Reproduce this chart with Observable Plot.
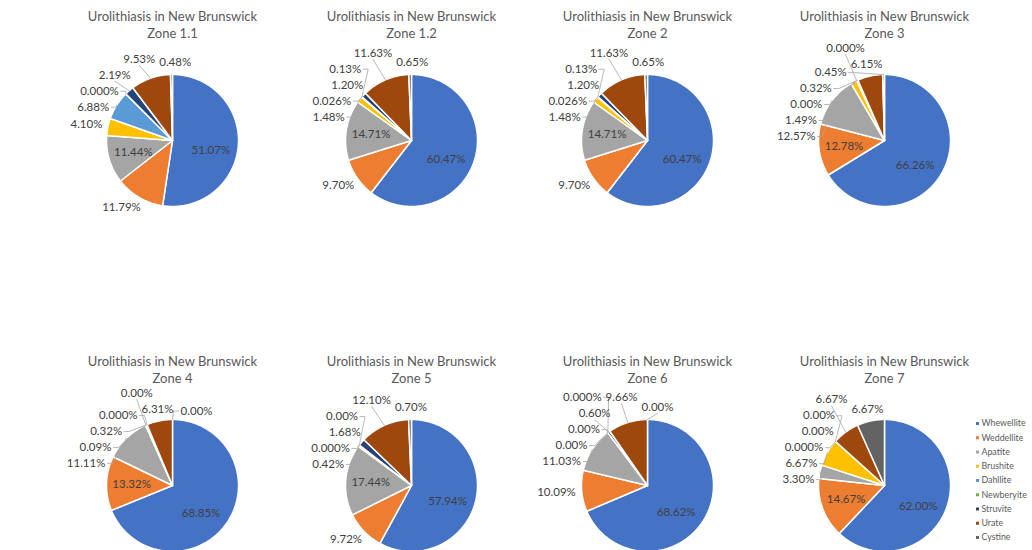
<!DOCTYPE html>
<html><head><meta charset="utf-8">
<script src="https://cdn.jsdelivr.net/npm/d3@7"></script>
<script src="https://cdn.jsdelivr.net/npm/@observablehq/plot@0.6"></script>
<style>
html,body{margin:0;padding:0;background:#fff;overflow:hidden}
#chart{width:1032px;height:550px}
</style></head><body><div id="chart"></div>
<script>
// ---------- data ----------
const categories = ["Whewellite","Weddellite","Apatite","Brushite","Dahllite","Newberyite","Struvite","Urate","Cystine"];
const colors = ["#4472C4","#ED7D31","#A5A5A5","#FFC000","#5B9BD5","#70AD47","#264478","#9E480E","#636363"];
const chartTitle = "Urolithiasis in New Brunswick";
const zoneNames = ["Zone 1.1","Zone 1.2","Zone 2","Zone 3","Zone 4","Zone 5","Zone 6","Zone 7"];

const zone1_1 = [51.07, 11.79, 11.44, 4.10, 6.88, 0, 2.19, 9.53, 0.48];
const zone1_1Labels = ["51.07%","11.79%","11.44%","4.10%","6.88%","0.000%","2.19%","9.53%","0.48%"];
const zone1_2 = [60.47, 9.70, 14.71, 1.48, 0.13, 0.026, 1.20, 11.63, 0.65];
const zone1_2Labels = ["60.47%","9.70%","14.71%","1.48%","0.13%","0.026%","1.20%","11.63%","0.65%"];
const zone2 = [60.47, 9.70, 14.71, 1.48, 0.13, 0.026, 1.20, 11.63, 0.65];
const zone2Labels = ["60.47%","9.70%","14.71%","1.48%","0.13%","0.026%","1.20%","11.63%","0.65%"];
const zone3 = [66.26, 12.78, 12.57, 1.49, 0, 0, 0.32, 6.15, 0.45];
const zone3Labels = ["66.26%","12.78%","12.57%","1.49%","0.000%","0.00%","0.32%","6.15%","0.45%"];
const zone4 = [68.85, 13.32, 11.11, 0.09, 0, 0.32, 0, 6.31, 0];
const zone4Labels = ["68.85%","13.32%","11.11%","0.09%","0.00%","0.32%","0.000%","6.31%","0.00%"];
const zone5 = [57.94, 9.72, 17.44, 0.42, 0, 0, 1.68, 12.10, 0.70];
const zone5Labels = ["57.94%","9.72%","17.44%","0.42%","0.00%","0.000%","1.68%","12.10%","0.70%"];
const zone6 = [68.62, 10.09, 11.03, 0, 0, 0, 0.60, 9.66, 0];
const zone6Labels = ["68.62%","10.09%","11.03%","0.00%","0.000%","0.00%","0.60%","9.66%","0.00%"];
const zone7 = [62.00, 14.67, 3.30, 6.67, 0, 0, 0, 6.67, 6.67];
const zone7Labels = ["62.00%","14.67%","3.30%","6.67%","0.00%","0.000%","0.00%","6.67%","6.67%"];

const zoneValues = [zone1_1, zone1_2, zone2, zone3, zone4, zone5, zone6, zone7];
const zoneLabelTexts = [zone1_1Labels, zone1_2Labels, zone2Labels, zone3Labels, zone4Labels, zone5Labels, zone6Labels, zone7Labels];

// ---------- layout (panel geometry, not data) ----------
const layout = {cols: [172, 411, 647, 884], rows: [140, 485], r: 66, titleOffset: 124, titleLine: 17,
  legendX: 977, legendY: 423, legendStep: 14.25};
const FONT = "Lato";
const labelSize = 11.5, titleSize = 13, legendSize = 8.8;

const ctx = document.createElement("canvas").getContext("2d");
function textWidth(t, size) { ctx.font = `${size}px ${FONT}`; return ctx.measureText(t).width; }

const sliceRows = [], labelRows = [], leaderRows = [], titleRows = [];

zoneValues.forEach((vals, k) => {
  const cx = layout.cols[k % 4], cy = layout.rows[Math.floor(k / 4)], r = layout.r;
  const labs = zoneLabelTexts[k];
  const total = d3.sum(vals);
  const arcs = d3.pie().sort(null).value(d => d)(vals);

  const ty1 = cy - layout.titleOffset, ty2 = ty1 + layout.titleLine;
  titleRows.push({x: cx, y: ty1, text: chartTitle});
  titleRows.push({x: cx, y: ty2, text: zoneNames[k]});
  const w1 = textWidth(chartTitle, titleSize) / 2 + 3, w2 = textWidth(zoneNames[k], titleSize) / 2 + 3;
  const titleBoxes = [{x0: cx - w1, x1: cx + w1, y1: ty1 + 8}, {x0: cx - w2, x1: cx + w2, y1: ty2 + 8}];

  // slices
  arcs.forEach((a, i) => {
    const span = a.endAngle - a.startAngle;
    if (span <= 0) return;
    const id = `${k}-${i}`;
    const cat = categories[i];
    sliceRows.push({id, cat, x: cx, y: cy});
    const n = Math.max(2, Math.ceil(span / (Math.PI / 180)));
    for (let j = 0; j <= n; j++) {
      const t = a.startAngle + span * j / n;
      sliceRows.push({id, cat, x: cx + r * Math.sin(t), y: cy - r * Math.cos(t)});
    }
    sliceRows.push({id, cat, x: cx, y: cy});
  });

  // labels
  const out = [];
  arcs.forEach((a, i) => {
    const span = a.endAngle - a.startAngle;
    const mid = (a.startAngle + a.endAngle) / 2;
    const share = vals[i] / total;
    const deg = mid * 180 / Math.PI;
    const s = Math.sin(mid), c = Math.cos(mid);
    const w = textWidth(labs[i], labelSize), h = 12;
    if (share >= 0.14 || (share >= 0.115 && deg >= 235 && deg <= 300)) {
      const t = span > Math.PI ? mid + 10 * Math.PI / 180 : mid;
      const rho = span > Math.PI ? 0.6 * r : 0.62 * r;
      labelRows.push({x: cx + rho * Math.sin(t), y: cy - rho * Math.cos(t), text: labs[i]});
    } else {
      const R = r + 6;
      const ax = cx + R * s, ay = cy - R * c;
      const bx = ax + s * w / 2, by = ay - c * h / 2;
      out.push({i, mid, s, c, w, h, bx, by, nx: bx, ny: by, text: labs[i]});
    }
  });

  const padX = 4, padY = 4, gap = r + 3;
  const ceilingFor = L => {
    let top = -Infinity;
    titleBoxes.forEach(b => {
      if (L.bx + L.w / 2 > b.x0 && L.bx - L.w / 2 < b.x1) top = Math.max(top, b.y1 + 1);
    });
    return top + L.h / 2;
  };
  for (let it = 0; it < 1200; it++) {
    let any = false;
    for (let p = 0; p < out.length; p++) for (let q = p + 1; q < out.length; q++) {
      const A = out[p], B = out[q];
      const ox = (A.w + B.w) / 2 + padX - Math.abs(A.bx - B.bx);
      const oy = (A.h + B.h) / 2 + padY - Math.abs(A.by - B.by);
      if (ox > 0.05 && oy > 0.05) {
        any = true;
        if (oy <= ox) {
          let upA;
          if (Math.abs(A.by - B.by) > 0.01) upA = A.by < B.by;
          else upA = A.s < 0 ? A.mid > B.mid : A.mid < B.mid;
          const d = oy * 0.25;
          if (upA) { A.by -= d; B.by += d; } else { A.by += d; B.by -= d; }
        } else {
          let leftA;
          if (Math.abs(A.bx - B.bx) > 0.01) leftA = A.bx < B.bx;
          else leftA = A.mid < B.mid;
          const d = ox * 0.25;
          if (leftA) { A.bx -= d; B.bx += d; } else { A.bx += d; B.bx -= d; }
        }
      }
    }
    out.forEach(L => {
      const ceil = ceilingFor(L);
      if (L.by < ceil) L.by = ceil;
      const top = L.by - L.h / 2, bot = L.by + L.h / 2;
      const dy = cy < top ? top - cy : (cy > bot ? cy - bot : 0);
      if (dy < gap) {
        const need = Math.sqrt(gap * gap - dy * dy);
        const side = L.bx >= cx ? 1 : -1;
        const inner = side > 0 ? (L.bx - L.w / 2) - cx : cx - (L.bx + L.w / 2);
        if (inner < need) L.bx += side * (need - inner);
      }
    });
    if (!any) break;
  }

  out.forEach(L => {
    labelRows.push({x: L.bx, y: L.by, text: L.text});
    const disp = Math.hypot(L.bx - L.nx, L.by - L.ny);
    if (disp > 6) {
      const id = `L${k}-${L.i}`;
      const ex = cx + r * L.s, ey = cy - r * L.c;
      if (L.bx + L.w / 2 < ex) {
        const x0 = L.bx + L.w / 2 + 2;
        leaderRows.push({id, x: x0, y: L.by}, {id, x: x0 + 5, y: L.by}, {id, x: ex, y: ey});
      } else if (L.bx - L.w / 2 > ex) {
        const x0 = L.bx - L.w / 2 - 2;
        leaderRows.push({id, x: x0, y: L.by}, {id, x: x0 - 5, y: L.by}, {id, x: ex, y: ey});
      } else {
        leaderRows.push({id, x: L.bx, y: L.by + L.h / 2}, {id, x: ex, y: ey});
      }
    }
  });
});

const legendRows = categories.map((cat, i) => ({cat, x: layout.legendX, y: layout.legendY + i * layout.legendStep}));

const chart = Plot.plot({
  width: 1032, height: 550, margin: 0,
  x: {domain: [0, 1032], range: [0, 1032], axis: null},
  y: {domain: [0, 550], range: [0, 550], axis: null},
  color: {domain: categories, range: colors},
  style: {fontFamily: FONT, background: "white", overflow: "visible"},
  marks: [
    Plot.line(sliceRows, {x: "x", y: "y", z: "id", fill: "cat", stroke: "white", strokeWidth: 1.5, strokeLinejoin: "round", curve: "linear"}),
    Plot.line(leaderRows, {x: "x", y: "y", z: "id", stroke: "#A6A6A6", strokeWidth: 0.8}),
    Plot.text(labelRows, {x: "x", y: "y", text: "text", fontSize: labelSize, fill: "#404040"}),
    Plot.text(titleRows, {x: "x", y: "y", text: "text", fontSize: titleSize, fill: "#595959"}),
    Plot.dot(legendRows, {x: "x", y: "y", fill: "cat", symbol: "square", r: 1.7}),
    Plot.text(legendRows, {x: d => d.x + 4, y: "y", text: "cat", textAnchor: "start", fontSize: legendSize, fill: "#595959"})
  ]
});
document.getElementById("chart").append(chart);
</script></body></html>
